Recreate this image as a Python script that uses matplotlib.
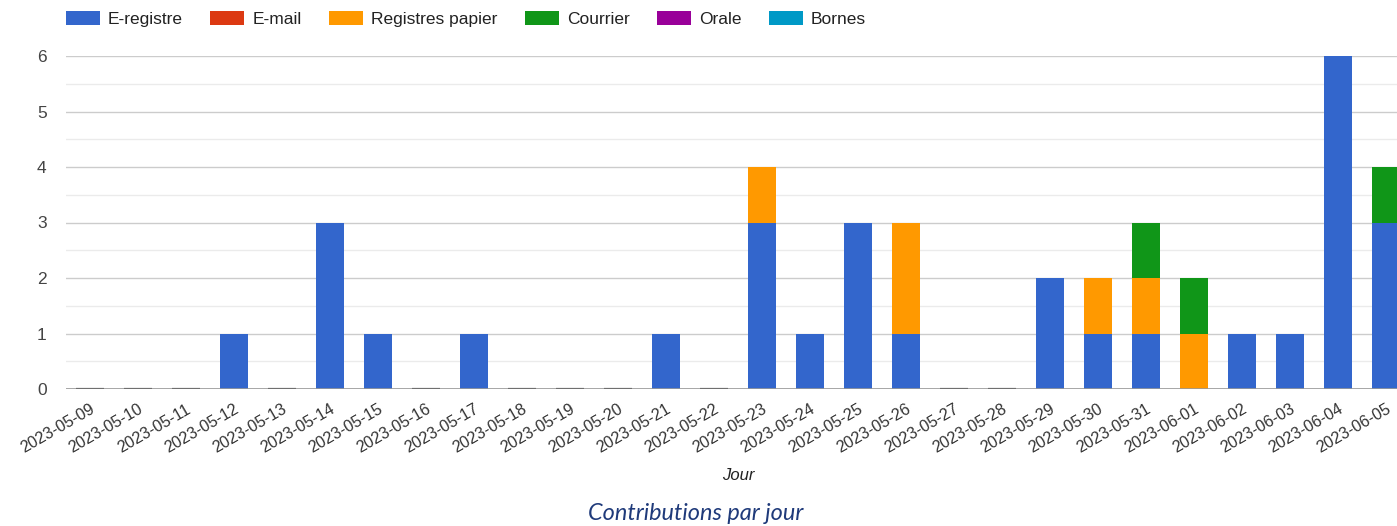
"""Contributions par jour - stacked bars"""

import matplotlib
matplotlib.use("Agg")
import matplotlib.pyplot as plt
from matplotlib.patches import Patch
import numpy as np

days = ["2023-05-09", "2023-05-10", "2023-05-11", "2023-05-12", "2023-05-13",
        "2023-05-14", "2023-05-15", "2023-05-16", "2023-05-17", "2023-05-18",
        "2023-05-19", "2023-05-20", "2023-05-21", "2023-05-22", "2023-05-23",
        "2023-05-24", "2023-05-25", "2023-05-26", "2023-05-27", "2023-05-28",
        "2023-05-29", "2023-05-30", "2023-05-31", "2023-06-01", "2023-06-02",
        "2023-06-03", "2023-06-04", "2023-06-05"]

e_registre = [0, 0, 0, 1, 0, 3, 1, 0, 1, 0, 0, 0, 1, 0, 3, 1, 3, 1, 0, 0, 2, 1, 1, 0, 1, 1, 6, 3]
e_mail = [0] * 28
registres_papier = [0, 0, 0, 0, 0, 0, 0, 0, 0, 0, 0, 0, 0, 0, 1, 0, 0, 2, 0, 0, 0, 1, 1, 1, 0, 0, 0, 0]
courrier = [0, 0, 0, 0, 0, 0, 0, 0, 0, 0, 0, 0, 0, 0, 0, 0, 0, 0, 0, 0, 0, 0, 1, 1, 0, 0, 0, 1]
orale = [0] * 28
bornes = [0] * 28

series_names = ["E-registre", "E-mail", "Registres papier", "Courrier", "Orale", "Bornes"]
colors = ["#3366cc", "#dc3912", "#ff9900", "#109618", "#990099", "#0099c6"]

plt.rcParams['font.family'] = ['Liberation Sans', 'DejaVu Sans']

fig = plt.figure(figsize=(13.97, 5.26), dpi=100)
# axes run a bit past the right edge, like the cropped original
ax = fig.add_axes([66 / 1397, 137 / 526, 1344 / 1397, 333 / 526])

x = np.arange(len(days))
bottom = np.zeros(len(days))
for name, vals, col in zip(series_names,
                           [e_registre, e_mail, registres_papier, courrier, orale, bornes],
                           colors):
    vals = np.array(vals)
    ax.bar(x, vals, 0.6, bottom=bottom, color=col, zorder=3)
    bottom += vals

ax.set_xlim(-0.5, len(days) - 0.5)
ax.set_ylim(0, 6)
ax.set_yticks(range(0, 7))
ax.set_yticks(np.arange(0.5, 6, 1), minor=True)
ax.grid(axis="y", which="major", color="#cccccc", linewidth=1, zorder=0)
ax.grid(axis="y", which="minor", color="#ebebeb", linewidth=1, zorder=0)
ax.axhline(0, color="#999999", linewidth=1.2, zorder=4)

# empty days show as a thin grey stub on the baseline
empty = bottom == 0
ax.bar(x[empty], bottom[empty], 0.6, edgecolor="#6f6f6f", linewidth=1.6,
       color="none", zorder=5)

for s in ax.spines.values():
    s.set_visible(False)

ax.set_xticks(x)
ax.set_xticklabels(days, rotation=30, ha="right", va="top", rotation_mode="anchor")
ax.tick_params(axis="x", length=0, pad=9, labelsize=11.6, labelcolor="#333333")
ax.tick_params(axis="y", which="both", length=0, pad=14, labelsize=12.5, labelcolor="#444444")

fig.text(738 / 1397, 1 - 476 / 526, "Jour", ha="center", va="center",
         fontsize=12, style="italic", color="#222222")
fig.text(696 / 1397, 1 - 514 / 526, "Contributions par jour", ha="center", va="center",
         fontsize=16.9, style="italic", color="#1f3a7a", family=["Lato", "DejaVu Sans"])

handles = [Patch(facecolor=c, label=n) for n, c in zip(series_names, colors)]
fig.legend(handles=handles, ncol=6, loc="center left",
           bbox_to_anchor=(66 / 1397, 1 - 19 / 526), frameon=False,
           fontsize=12.5, handlelength=1.95, handleheight=0.92, handletextpad=0.47,
           columnspacing=1.58, borderaxespad=0, borderpad=0, labelcolor="#222222")

fig.savefig("out.png", dpi=100)
